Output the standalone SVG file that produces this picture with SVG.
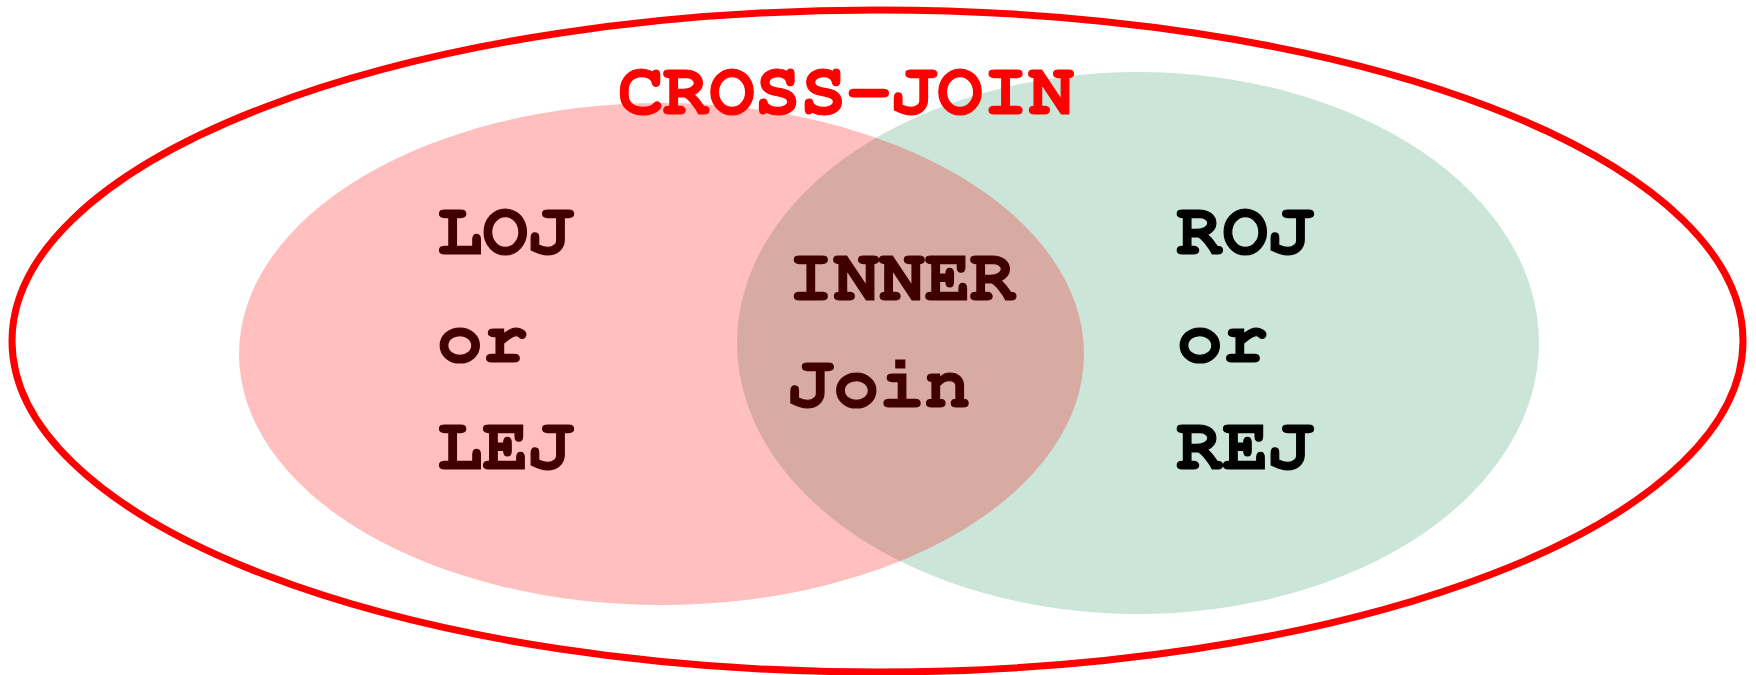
<svg xmlns="http://www.w3.org/2000/svg" width="1756" height="675" viewBox="0 0 1756 675">
<style>
.t{font-family:"Nimbus Mono PS","Nimbus Mono L","FreeMono","Courier New","Liberation Mono",monospace;font-weight:bold;font-size:76px;fill:#000;stroke:#000;stroke-width:1.2px}
.title{fill:#ff0000;stroke:#ff0000}
</style>
<rect width="1756" height="675" fill="#fff"/>
<g id="cross-join">
<ellipse cx="877.5" cy="341" rx="865.5" ry="331" fill="none" stroke="#ff0000" stroke-width="7"/>
</g>
<g id="right-set">
<ellipse cx="1138" cy="343" rx="401" ry="271" fill="#cbe5d9"/>
</g>
<g id="labels">
<text class="t title" x="618" y="114">CROSS-JOIN</text>
<text class="t" x="437" y="254">LOJ</text>
<text class="t" x="437" y="362">or</text>
<text class="t" x="437" y="469">LEJ</text>
<text class="t" x="1177" y="254">ROJ</text>
<text class="t" x="1177" y="362">or</text>
<text class="t" x="1177" y="469">REJ</text>
<text class="t" x="788" y="300">INNER</text>
<text class="t" x="788" y="407">Join</text>
</g>
<g id="left-set">
<ellipse cx="661.5" cy="354" rx="422.5" ry="251" fill="#ff0000" fill-opacity="0.25"/>
</g>
<g id="connectors"></g>
</svg>
